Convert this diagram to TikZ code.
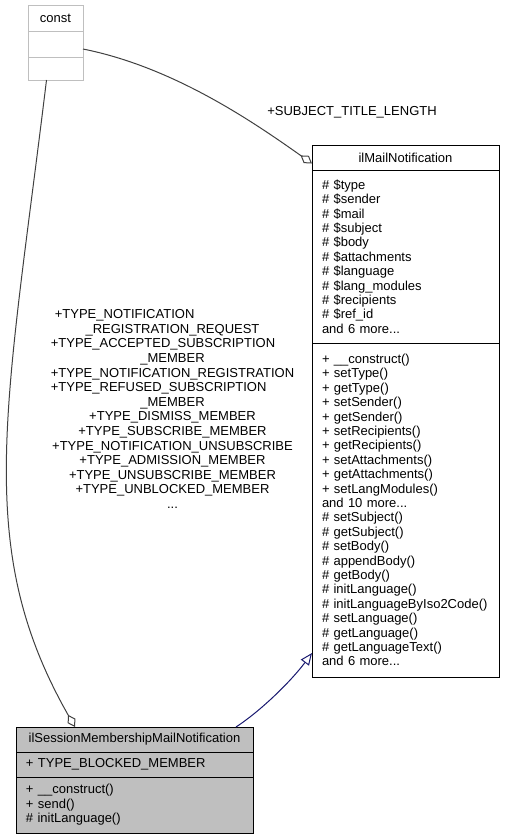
\documentclass[tikz,border=0pt]{standalone}
\usepackage{fontspec}
\setmainfont{Liberation Sans}
\usetikzlibrary{arrows.meta,positioning}
\definecolor{grey75}{RGB}{191,191,191}
\definecolor{grey25}{RGB}{64,64,64}
\definecolor{midblue}{RGB}{25,25,112}
\newcommand{\wrapfirst}[1]{\rlap{#1}\phantom{+TYPE\_NOTIFICATION\_REGISTRATION}}

\begin{document}
\begin{tikzpicture}[x=1pt,y=-1pt,
  every node/.style={font=\fontsize{13}{14.4}\selectfont,inner sep=0pt,outer sep=0pt},
  cls/.style={draw,line width=1pt,minimum height=25pt},
  memb/.style={draw,line width=1pt,align=left,inner xsep=10pt},
  uses/.style={grey25,line width=1pt,-{Diamond[open,length=14pt,width=9pt]}},
  isa/.style={midblue,line width=1pt,-{Triangle[open,length=12pt,width=10pt]}}]
\useasboundingbox (0,0) rectangle (504,839);
% const
\node[cls,draw=grey75,minimum width=55pt,minimum height=26pt] (consttitle) at (55.5,18) {const};
\node[cls,draw=grey75,minimum width=55pt,minimum height=26pt,below=0pt of consttitle] (constattr) {};
\node[cls,draw=grey75,minimum width=55pt,minimum height=23pt,below=0pt of constattr] (constmeth) {};
% ilMailNotification
\node[cls,minimum width=187pt] (mailtitle) at (405.5,157.5) {ilMailNotification};
\node[memb,text width=167pt,minimum height=173pt,below=0pt of mailtitle] (mailattr)
  {\# \$type\\\# \$sender\\\# \$mail\\\# \$subject\\\# \$body\\\# \$attachments\\
   \# \$language\\\# \$lang\_modules\\\# \$recipients\\\# \$ref\_id\\and 6 more...};
\node[memb,text width=167pt,minimum height=334pt,below=0pt of mailattr] (mailmeth)
  {+ \_\_construct()\\+ setType()\\+ getType()\\+ setSender()\\+ getSender()\\
   + setRecipients()\\+ getRecipients()\\+ setAttachments()\\+ getAttachments()\\
   + setLangModules()\\and 10 more...\\\# setSubject()\\\# getSubject()\\\# setBody()\\
   \# appendBody()\\\# getBody()\\\# initLanguage()\\\# initLanguageByIso2Code()\\
   \# setLanguage()\\\# getLanguage()\\\# getLanguageText()\\and 6 more...};
% ilSessionMembershipMailNotification
\node[cls,fill=grey75,minimum width=237pt] (sesstitle) at (134.5,739.5) {ilSessionMembershipMailNotification};
\node[memb,fill=grey75,text width=217pt,minimum height=25pt,below=0pt of sesstitle] (sessattr) {+ TYPE\_BLOCKED\_MEMBER};
\node[memb,fill=grey75,text width=217pt,minimum height=56pt,below=0pt of sessattr] (sessmeth)
  {+ \_\_construct()\\+ send()\\\# initLanguage()};
% edges
\draw[uses] ([yshift=-5pt]constattr.east) .. controls (173,67) and (252,121) .. ([yshift=-6pt]mailtitle.west);
\draw[uses] ([xshift=-9pt]constmeth.south) .. controls (6.4,410) and (-27.6,547) .. ([xshift=59pt]sesstitle.north west);
\draw[isa] ([xshift=-17pt]sesstitle.north east) .. controls (262,710) and (292,680) .. ([yshift=24pt]mailmeth.south west);
\node (subjlbl) at (352,112) {+SUBJECT\_TITLE\_LENGTH};
\node[align=center,font=\fontsize{13}{14.6}\selectfont] (typelbl) at (172.5,409)
  {\wrapfirst{\hspace*{4pt}+TYPE\_NOTIFICATION}\\\_REGISTRATION\_REQUEST\\
   \wrapfirst{+TYPE\_ACCEPTED\_SUBSCRIPTION}\\\_MEMBER\\
   +TYPE\_NOTIFICATION\_REGISTRATION\\\wrapfirst{+TYPE\_REFUSED\_SUBSCRIPTION}\\\_MEMBER\\
   +TYPE\_DISMISS\_MEMBER\\+TYPE\_SUBSCRIBE\_MEMBER\\+TYPE\_NOTIFICATION\_UNSUBSCRIBE\\
   +TYPE\_ADMISSION\_MEMBER\\+TYPE\_UNSUBSCRIBE\_MEMBER\\+TYPE\_UNBLOCKED\_MEMBER\\...};
\end{tikzpicture}
\end{document}
